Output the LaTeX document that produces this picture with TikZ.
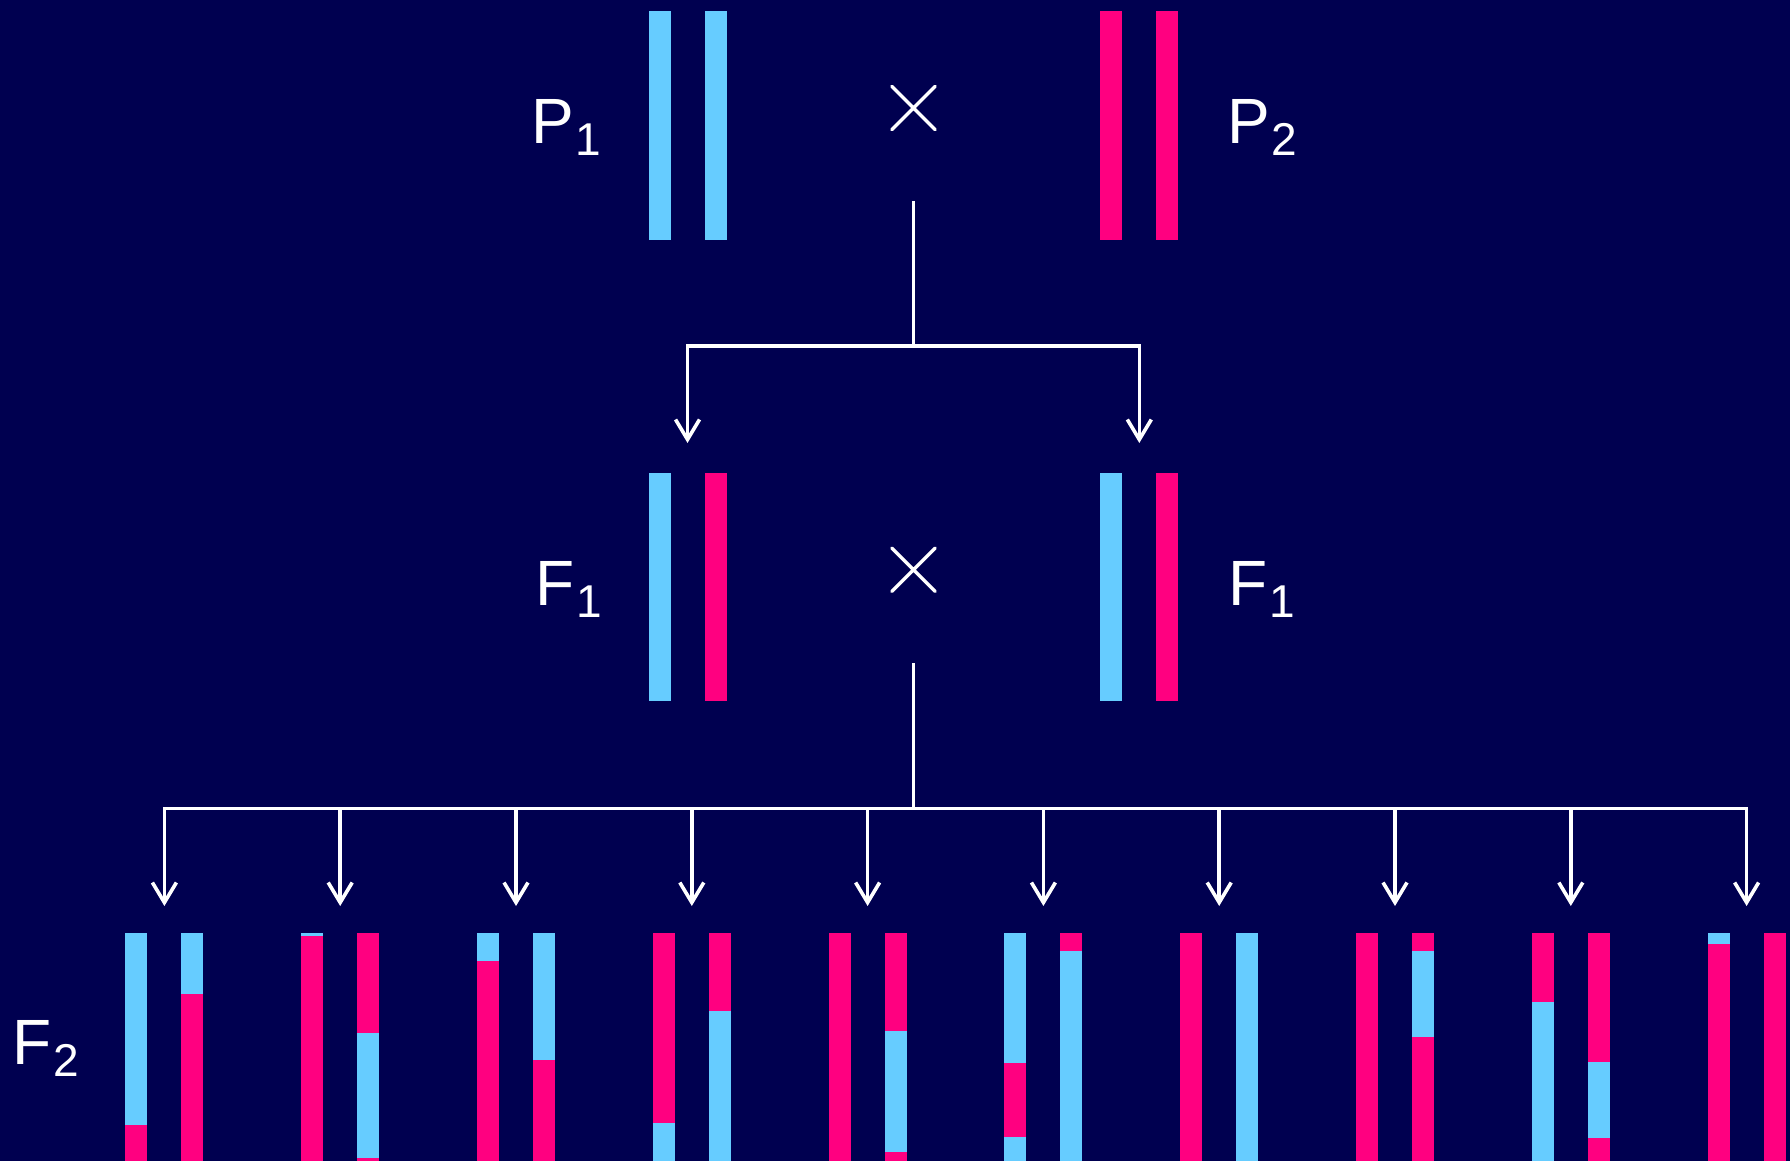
\documentclass[tikz,border=0pt]{standalone}
\usepackage{fontspec}
\setmainfont{Liberation Sans}
\usetikzlibrary{arrows.meta,shapes.misc}
\definecolor{bg}{RGB}{0,0,80}
\definecolor{cblue}{RGB}{102,204,255}
\definecolor{cpink}{RGB}{255,0,128}
\tikzset{
  conn/.style={draw=white, line width=3.6pt, line cap=rect},
  arr/.style={draw=white, line width=3.6pt, -{Straight Barb[length=20pt,width=24pt]}},
  xmark/.style={cross out, draw=white, line width=3.4pt, line cap=round, minimum size=40pt, inner sep=0pt},
  lbl/.style={text=white, font=\fontsize{64}{70}\selectfont, inner sep=0pt, anchor=base west},
}
\newcommand{\sbs}[1]{\hspace{2pt}\raisebox{-12pt}{\fontsize{46}{50}\selectfont #1}}
% full bar: x-centre, top, bottom, colour
\newcommand{\chrfull}[4]{\fill[#4] (#1-11,#2) rectangle (#1+11,#3);}
\begin{document}
\begin{tikzpicture}[x=1pt,y=-1pt]
\useasboundingbox (0,0) rectangle (1790,1161);
\fill[bg] (0,0) rectangle (1790,1161);

% P generation
\chrfull{660.4}{11.4}{239.7}{cblue}
\chrfull{716.4}{11.4}{239.7}{cblue}
\chrfull{1111.3}{11.4}{239.7}{cpink}
\chrfull{1167.3}{11.4}{239.7}{cpink}
\node[lbl] (lP1) at (531,144) {P\sbs{1}};
\node[lbl] (lP2) at (1227,144) {P\sbs{2}};
\node[xmark] (x1) at (913.5,108) {};

% F1 generation
\chrfull{660.4}{472.6}{701}{cblue}
\chrfull{716.4}{472.6}{701}{cpink}
\chrfull{1111.3}{472.6}{701}{cblue}
\chrfull{1167.3}{472.6}{701}{cpink}
\node[lbl] (lF1a) at (535,605) {F\sbs{1}};
\node[lbl] (lF1b) at (1228,605) {F\sbs{1}};
\node[xmark] (x2) at (913.5,569.7) {};

% connectors P -> F1
\coordinate (v1) at (913.5,203);
\coordinate (j1) at (913.5,346);
\coordinate (h1a) at (687.5,346);
\coordinate (h1b) at (1139.3,346);
\coordinate (t1a) at (687.5,443);
\coordinate (t1b) at (1139.3,443);
\draw[conn] (v1) -- (j1);
\draw[conn] (h1a) -- (h1b);
\draw[arr] (h1a) -- (t1a);
\draw[arr] (h1b) -- (t1b);

% connectors F1 -> F2
\coordinate (v2) at (913.5,664.4);
\coordinate (j2) at (913.5,808.5);
\draw[conn] (v2) -- (j2);
\foreach \k in {0,...,9}{
  \coordinate (h\k) at ({164.4+175.8*\k},808.5);
  \coordinate (t\k) at ({164.4+175.8*\k},906);
}
\draw[conn] (h0) -- (h9);
\foreach \k in {0,...,9}{ \draw[arr] (h\k) -- (t\k); }

\node[lbl] (lF2) at (12,1064) {F\sbs{2}};

% F2 chromosomes
\def\T{932.5}\def\B{1161}
% pair 0
\chrfull{136.4}{\T}{\B}{cpink}\chrfull{136.4}{\T}{1125.3}{cblue}
\chrfull{192.4}{\T}{\B}{cpink}\chrfull{192.4}{\T}{994.3}{cblue}
% pair 1
\chrfull{312.2}{\T}{\B}{cpink}\chrfull{312.2}{\T}{935.6}{cblue}
\chrfull{368.2}{\T}{\B}{cpink}\chrfull{368.2}{1033}{1157.7}{cblue}
% pair 2
\chrfull{488.0}{\T}{\B}{cpink}\chrfull{488.0}{\T}{961.3}{cblue}
\chrfull{544.0}{\T}{\B}{cpink}\chrfull{544.0}{\T}{1059.7}{cblue}
% pair 3
\chrfull{663.8}{\T}{\B}{cblue}\chrfull{663.8}{\T}{1123}{cpink}
\chrfull{719.8}{\T}{\B}{cblue}\chrfull{719.8}{\T}{1011.3}{cpink}
% pair 4
\chrfull{839.6}{\T}{\B}{cpink}
\chrfull{895.6}{\T}{\B}{cpink}\chrfull{895.6}{1031.3}{1152}{cblue}
% pair 5
\chrfull{1015.4}{\T}{\B}{cblue}\chrfull{1015.4}{1062.7}{1137}{cpink}
\chrfull{1071.4}{\T}{\B}{cblue}\chrfull{1071.4}{\T}{951}{cpink}
% pair 6
\chrfull{1191.2}{\T}{\B}{cpink}
\chrfull{1247.2}{\T}{\B}{cblue}
% pair 7
\chrfull{1367.0}{\T}{\B}{cpink}
\chrfull{1423.0}{\T}{\B}{cpink}\chrfull{1423.0}{951.3}{1036.7}{cblue}
% pair 8
\chrfull{1542.8}{\T}{\B}{cblue}\chrfull{1542.8}{\T}{1002}{cpink}
\chrfull{1598.8}{\T}{\B}{cpink}\chrfull{1598.8}{1062}{1137.7}{cblue}
% pair 9
\chrfull{1718.6}{\T}{\B}{cpink}\chrfull{1718.6}{\T}{944.3}{cblue}
\chrfull{1774.6}{\T}{\B}{cpink}
\end{tikzpicture}
\end{document}
